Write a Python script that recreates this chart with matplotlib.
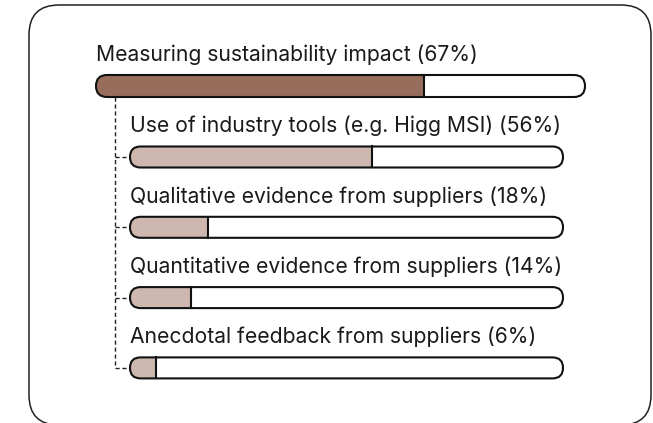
import matplotlib
matplotlib.use("Agg")
import matplotlib.pyplot as plt
from matplotlib.patches import FancyBboxPatch, Rectangle

main_label = "Measuring sustainability impact"
main_value = 67
sub_labels = ["Use of industry tools (e.g. Higg MSI)",
              "Qualitative evidence from suppliers",
              "Quantitative evidence from suppliers",
              "Anecdotal feedback from suppliers"]
sub_values = [56, 18, 14, 6]

dark = "#976e5c"
light = "#cdb7ae"

fig = plt.figure(figsize=(6.53, 4.23), dpi=100)
ax = fig.add_axes([0, 0, 1, 1])
ax.set_xlim(0, 653)
ax.set_ylim(423, 0)
ax.axis("off")

plt.rcParams['font.family'] = ['Inter', 'DejaVu Sans']
FS = 15.2

# outer box
box = FancyBboxPatch((29, 5), 622, 420, boxstyle="round,pad=0,rounding_size=30",
                     fc="white", ec="#222222", lw=1.1)
ax.add_patch(box)


def bar(x0, yc, w, h, val, color):
    r = h / 2
    bg = FancyBboxPatch((x0, yc - h / 2), w, h, boxstyle=f"round,pad=0,rounding_size={r}",
                        fc="white", ec="none", zorder=2)
    ax.add_patch(bg)
    fill = Rectangle((x0, yc - h / 2), w * val / 100, h, fc=color, ec="none", zorder=3)
    ax.add_patch(fill)
    fill.set_clip_path(bg)
    ax.plot([x0 + w * val / 100] * 2, [yc - h / 2, yc + h / 2], color="#111111", lw=1.5, zorder=4)
    ol = FancyBboxPatch((x0, yc - h / 2), w, h, boxstyle=f"round,pad=0,rounding_size={r}",
                        fc="none", ec="#111111", lw=1.5, zorder=5)
    ax.add_patch(ol)


# main
ax.text(96, 55, f"{main_label} ({main_value}%)", fontsize=FS, va="center", ha="left", color="#1a1a1a")
bar(96, 86, 489, 22, main_value, dark)

sub_x0, sub_w, sub_h = 130, 433, 21
y_text0, y_bar0, step = 126, 157, 70.3
conn_x = 115
bar_ys = []
for i, (lab, v) in enumerate(zip(sub_labels, sub_values)):
    yt = y_text0 + i * step
    yb = y_bar0 + i * step
    bar_ys.append(yb)
    ax.text(sub_x0, yt, f"{lab} ({v}%)", fontsize=FS, va="center", ha="left", color="#1a1a1a")
    bar(sub_x0, yb, sub_w, sub_h, v, light)
    ax.plot([conn_x, sub_x0], [yb, yb], color="#222222", lw=1.0, ls=(0, (3, 2)), zorder=1.5)

ax.plot([conn_x, conn_x], [97, bar_ys[-1]], color="#222222", lw=1.0, ls=(0, (3, 2)), zorder=1.5)

fig.savefig("out.png", dpi=100)
